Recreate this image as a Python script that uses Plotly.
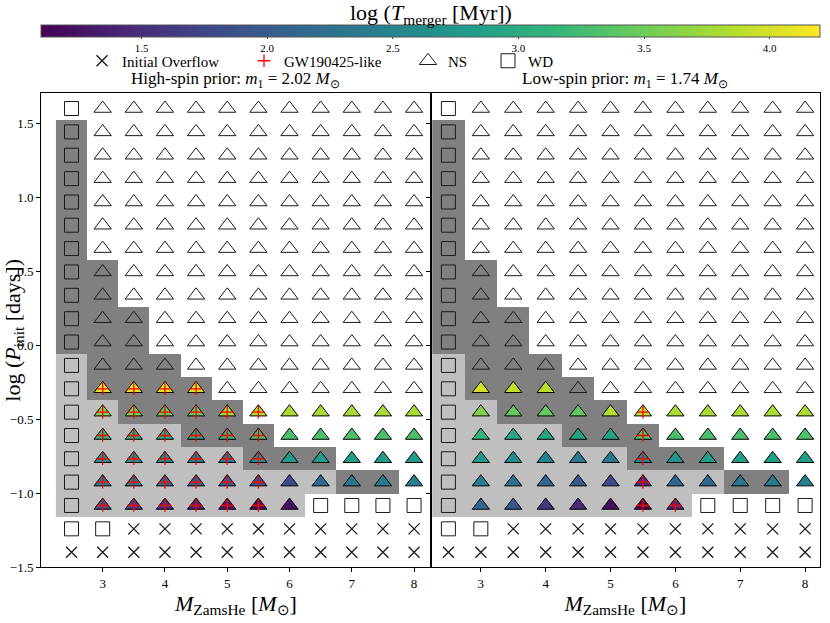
import plotly.graph_objects as go

font_family = 'Liberation Serif'
ink = '#1a1a1a'
dark_shade = '#808080'
light_shade = '#bfbfbf'

mzams = [2.5, 3.0, 3.5, 4.0, 4.5, 5.0, 5.5, 6.0, 6.5, 7.0, 7.5, 8.0]
# log P_init grid, top row first
log_p = [1.6, 1.442, 1.284, 1.126, 0.968, 0.811, 0.653, 0.495, 0.337, 0.179,
         0.021, -0.137, -0.295, -0.453, -0.611, -0.768, -0.926, -1.084, -1.242, -1.4]

# W = WD, N = NS (no merger), F = NS merger, G = merger that is GW190425-like, X = initial overflow
hi_outcome = [
    'WNNNNNNNNNNN', 'WNNNNNNNNNNN', 'WNNNNNNNNNNN', 'WNNNNNNNNNNN', 'WNNNNNNNNNNN',
    'WNNNNNNNNNNN', 'WNNNNNNNNNNN', 'WNNNNNNNNNNN', 'WNNNNNNNNNNN', 'WNNNNNNNNNNN',
    'WNNNNNNNNNNN', 'WNNNNNNNNNNN',
    'WGGGGNNNNNNN',
    'WGGGGGGFFFFF',
    'WGGGGGGFFFFF',
    'WGGGGGGFFFFF',
    'WGGGGGGFFFFF',
    'WGGGGGGFWWWW',
    'WWXXXXXXXXXX',
    'XXXXXXXXXXXX',
]
lo_outcome = [
    'WNNNNNNNNNNN', 'WNNNNNNNNNNN', 'WNNNNNNNNNNN', 'WNNNNNNNNNNN', 'WNNNNNNNNNNN',
    'WNNNNNNNNNNN', 'WNNNNNNNNNNN', 'WNNNNNNNNNNN', 'WNNNNNNNNNNN', 'WNNNNNNNNNNN',
    'WNNNNNNNNNNN', 'WNNNNNNNNNNN',
    'WFFFNNNNNNNN',
    'WFFFFFGFFFFF',
    'WFFFFFGFFFFF',
    'WFFFFFGFFFFF',
    'WFFFFFGFFFFF',
    'WFFFFFGGWWWW',
    'WWXXXXXXXXXX',
    'XXXXXXXXXXXX',
]

# background shading (same in both panels): d = dark, l = light, . = none
shade = [
    '............',
    'd...........', 'd...........', 'd...........', 'd...........', 'd...........', 'd...........',
    'dd..........', 'dd..........',
    'ddd.........', 'ddd.........',
    'lddd........',
    'ldddd.......',
    'lldddd......',
    'llllddd.....',
    'llllllddd...',
    'llllllllldd.',
    'llllllll....',
    '............',
    '............',
]

# log T_merger [Myr] for the rows log P = -0.295 ... -1.084
hi_logt = [
    [None, 4.12, 4.10, 4.08, 4.05, None, None, None, None, None, None, None],
    [None, 3.60, 3.55, 3.45, 3.42, 3.78, 3.88, 3.80, 3.80, 3.80, 3.80, 3.80],
    [None, 3.12, 3.02, 2.95, 2.92, 3.15, 3.25, 3.30, 3.30, 3.30, 3.30, 3.30],
    [None, 2.65, 2.65, 2.60, 2.45, 2.40, 2.55, 2.78, 2.82, 2.82, 2.82, 2.82],
    [None, 2.35, 2.30, 2.15, 2.05, 1.97, 1.92, 1.80, 2.15, 2.35, 2.38, 2.45],
    [None, 1.95, 1.75, 1.55, 1.42, 1.30, 1.18, 1.25, None, None, None, None],
]
lo_logt = [
    [None, 4.00, 3.92, 3.90, None, None, None, None, None, None, None, None],
    [None, 3.60, 3.45, 3.45, 3.42, 3.85, 3.92, 3.80, 3.80, 3.80, 3.80, 3.80],
    [None, 3.12, 2.95, 2.92, 2.88, 2.90, 3.35, 3.30, 3.30, 3.30, 3.30, 3.30],
    [None, 2.75, 2.62, 2.50, 2.38, 2.38, 2.55, 2.72, 2.85, 2.85, 2.85, 2.85],
    [None, 2.38, 2.25, 2.10, 1.95, 1.80, 1.45, 2.10, 2.15, 2.35, 2.38, 2.45],
    [None, 2.10, 1.95, 1.60, 1.45, 1.22, 1.10, 1.45, None, None, None, None],
]
first_merger_row = log_p.index(-0.295)

titles = ['High-spin prior: <i>m</i><sub>1</sub> = 2.02 <i>M</i><sub>⊙</sub>',
          'Low-spin prior: <i>m</i><sub>1</sub> = 1.74 <i>M</i><sub>⊙</sub>']


def add_panel(fig, outcome, logt, xa, ya, first):
    z = [[{'d': 2, 'l': 1}.get(c) for c in row] for row in shade]
    fig.add_trace(go.Heatmap(x=mzams, y=log_p, z=z, xaxis=xa, yaxis=ya,
                             colorscale=[[0, light_shade], [1, dark_shade]],
                             zmin=1, zmax=2, showscale=False, hoverinfo='skip'))

    pts = {k: ([], []) for k in 'WNXG'}
    fx, fy, fc = [], [], []
    for i, row in enumerate(outcome):
        for j, code in enumerate(row):
            x, y = mzams[j], log_p[i]
            if code in 'FG':
                fx.append(x)
                fy.append(y)
                fc.append(logt[i - first_merger_row][j])
                if code == 'G':
                    pts['G'][0].append(x)
                    pts['G'][1].append(y)
            else:
                pts[code][0].append(x)
                pts[code][1].append(y)

    fig.add_trace(go.Scatter(x=pts['W'][0], y=pts['W'][1], mode='markers', name='WD',
                             xaxis=xa, yaxis=ya, showlegend=first, legend='legend4',
                             marker=dict(symbol='square-open', size=14, color=ink,
                                         line=dict(width=1))))
    fig.add_trace(go.Scatter(x=pts['N'][0], y=pts['N'][1], mode='markers', name='NS',
                             xaxis=xa, yaxis=ya, showlegend=first, legend='legend3',
                             marker=dict(symbol='triangle-up-open', size=15, color=ink,
                                         line=dict(width=1))))
    fig.add_trace(go.Scatter(x=fx, y=fy, mode='markers', name='merger',
                             xaxis=xa, yaxis=ya, showlegend=False,
                             marker=dict(symbol='triangle-up', size=15, color=fc,
                                         coloraxis='coloraxis',
                                         line=dict(width=1, color='black'))))
    fig.add_trace(go.Scatter(x=pts['X'][0], y=pts['X'][1], mode='markers',
                             name='Initial Overflow', xaxis=xa, yaxis=ya,
                             showlegend=first, legend='legend',
                             marker=dict(symbol='x-thin-open', size=11, color=ink,
                                         line=dict(width=1.3, color=ink))))
    fig.add_trace(go.Scatter(x=pts['G'][0], y=pts['G'][1], mode='markers',
                             name='GW190425-like', xaxis=xa, yaxis=ya,
                             showlegend=first, legend='legend2',
                             marker=dict(symbol='cross-thin-open', size=9, color='red',
                                         line=dict(width=1.3, color='red'))))


fig = go.Figure()
add_panel(fig, hi_outcome, hi_logt, 'x', 'y', True)
add_panel(fig, lo_outcome, lo_logt, 'x2', 'y2', False)

axis_common = dict(showline=True, linecolor='black', linewidth=1, mirror=True,
                   ticks='outside', ticklen=4, tickcolor='black', showgrid=False,
                   zeroline=False, tickfont=dict(size=13))
xtitle = dict(text='<i>M</i><sub>ZamsHe</sub> [<i>M</i><sub>⊙</sub>]',
              font=dict(size=22), standoff=2)

legend_common = dict(orientation='h', yanchor='middle', y=1.0675, xanchor='left',
                     font=dict(size=15), bgcolor='rgba(0,0,0,0)', itemsizing='trace')

fig.update_layout(
    width=830, height=623,
    margin=dict(l=41, r=10, t=93, b=56, autoexpand=False),
    plot_bgcolor='white', paper_bgcolor='white',
    font=dict(family=font_family, size=13, color='black'),
    xaxis=dict(domain=[0, 0.5005], range=[2.01, 8.27], anchor='y',
               tickvals=[3, 4, 5, 6, 7, 8], title=xtitle, **axis_common),
    xaxis2=dict(domain=[0.5005, 1], range=[2.23, 8.23], anchor='y2',
                tickvals=[3, 4, 5, 6, 7, 8], title=xtitle, **axis_common),
    yaxis=dict(domain=[0, 1], range=[-1.5, 1.705], anchor='x', dtick=0.5,
               tickformat='.1f', **axis_common),
    yaxis2=dict(domain=[0, 1], matches='y', anchor='x2', showticklabels=False,
                **axis_common),
    coloraxis=dict(
        colorscale='Viridis', cmin=1.1, cmax=4.2,
        colorbar=dict(
            orientation='h', x=0.5, xanchor='center', len=1.0, xpad=0,
            y=1.1435, yanchor='top', ypad=0, thickness=12,
            outlinewidth=1, outlinecolor='#555',
            tickvals=[1.5, 2.0, 2.5, 3.0, 3.5, 4.0], tickformat='.1f',
            ticks='outside', ticklen=2, tickfont=dict(size=11),
        ),
    ),
    legend=dict(x=0.0527, **legend_common),
    legend2=dict(x=0.2606, **legend_common),
    legend3=dict(x=0.4711, **legend_common),
    legend4=dict(x=0.5738, **legend_common),
    showlegend=True,
)

# colorbar label
fig.add_annotation(x=0.5, y=1.167, xref='paper', yref='paper', xanchor='center',
                   yanchor='middle', text='log (<i>T</i><sub>merger</sub> [Myr])',
                   showarrow=False, font=dict(size=22))

for xc, text in zip([0.25, 0.75], titles):
    fig.add_annotation(x=xc, y=1.027, xref='paper', yref='paper', text=text,
                       xanchor='center', yanchor='middle',
                       showarrow=False, font=dict(size=17))

fig.add_annotation(x=-0.035, y=0.5, xref='paper', yref='paper', xanchor='center',
                   yanchor='middle', text='log (<i>P</i><sub>init</sub> [days])',
                   textangle=-90, showarrow=False, font=dict(size=22))

fig.write_html('out.html', config={'displayModeBar': False},
               post_script="document.body.style.margin = '0';")
